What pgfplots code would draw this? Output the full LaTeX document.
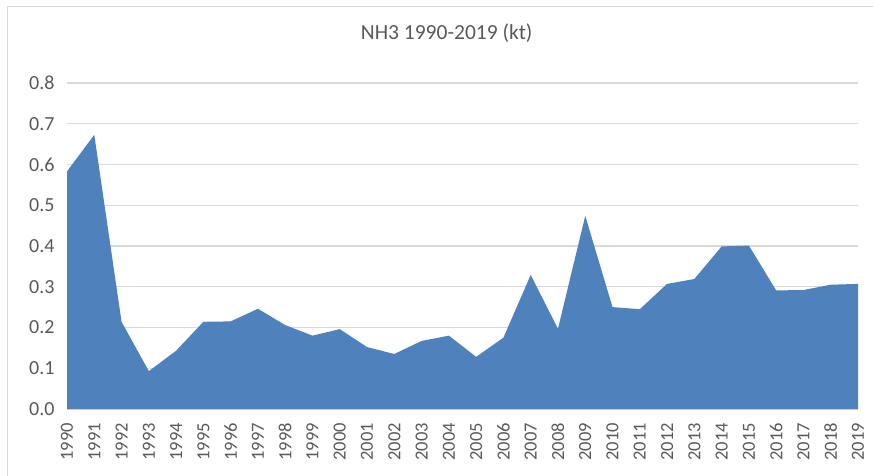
\documentclass[border=0pt]{standalone}
\usepackage{fontspec}
\setmainfont{Carlito}
\usepackage{pgfplots}
\pgfplotsset{compat=1.18}
\definecolor{areablue}{RGB}{79,129,189}
\definecolor{txtgray}{RGB}{89,89,89}
\definecolor{gridgray}{RGB}{217,217,217}
\begin{document}
\begin{tikzpicture}
\useasboundingbox (0pt,0pt) rectangle (873pt,-476pt);
\draw[gridgray, line width=1pt] (7pt,-480pt) -- (7pt,-7pt) -- (880pt,-7pt);
\begin{axis}[
  at={(67pt,-409pt)}, anchor=south west,
  scale only axis, width=791pt, height=326pt,
  xmin=1990, xmax=2019, ymin=0, ymax=0.8,
  xtick={1990,1991,...,2019},
  ytick={0,0.1,...,0.8},
  x tick label style={/pgf/number format/1000 sep={}, rotate=90, anchor=east, inner xsep=14pt, font=\fontsize{18.5}{18.5}\selectfont, color=txtgray},
  y tick label style={/pgf/number format/.cd, fixed, fixed zerofill, precision=1, /tikz/.cd, xshift=-9pt, font=\fontsize{20}{20}\selectfont, color=txtgray},
  /pgf/number format/assume math mode=true,
  major tick length=0pt,
  ymajorgrids, grid style={gridgray, line width=1.2pt},
  axis lines*=left,
  x axis line style={gridgray, line width=1.2pt},
  y axis line style={draw=none},
  title={NH3 1990-2019 (kt)},
  title style={at={(axis description cs:0.480,1.135)}, anchor=center, font=\fontsize{21.5}{21.5}\selectfont, color=txtgray},
  axis on top=false,
]
\addplot[fill=areablue, draw=none] coordinates {
(1990,0.583) (1991,0.673) (1992,0.214) (1993,0.093) (1994,0.143)
(1995,0.214) (1996,0.215) (1997,0.246) (1998,0.206) (1999,0.180)
(2000,0.196) (2001,0.152) (2002,0.135) (2003,0.167) (2004,0.180)
(2005,0.128) (2006,0.175) (2007,0.329) (2008,0.197) (2009,0.474)
(2010,0.250) (2011,0.245) (2012,0.307) (2013,0.319) (2014,0.399)
(2015,0.401) (2016,0.291) (2017,0.292) (2018,0.305) (2019,0.307)
} \closedcycle;
\end{axis}
\end{tikzpicture}
\end{document}
